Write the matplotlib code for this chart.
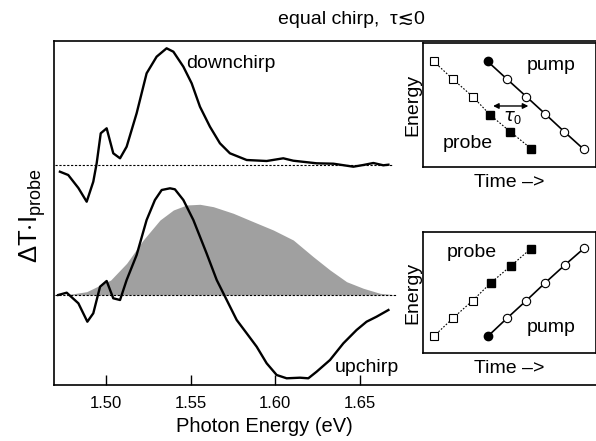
import matplotlib
matplotlib.use("Agg")
import matplotlib.pyplot as plt

plt.rcParams['font.family'] = ['Liberation Sans', 'DejaVu Sans']
plt.rcParams['mathtext.fontset'] = 'custom'
plt.rcParams['mathtext.rm'] = 'Liberation Sans'

# downchirp trace (offset above the upchirp trace)
down_e = [1.4728, 1.4777, 1.4837, 1.4886, 1.4925, 1.4945, 1.4969, 1.5004, 1.5043, 1.5083,
          1.5122, 1.5181, 1.5240, 1.5299, 1.5358, 1.5398, 1.5457, 1.5506, 1.5555, 1.5614,
          1.5673, 1.5732, 1.5831, 1.5949, 1.6047, 1.6106, 1.6244, 1.6343, 1.6461, 1.6520,
          1.6579, 1.6638, 1.6668]
down_s = [-0.67, -1.0, -2.3, -3.67, -1.67, 0.17, 3.17, 3.67, 1.17, 0.67,
          1.83, 5.17, 9.17, 10.83, 11.67, 11.33, 9.83, 8.17, 5.83, 3.83,
          2.17, 1.17, 0.5, 0.4, 0.67, 0.43, 0.17, 0.13, -0.17, 0.0,
          0.2, -0.03, 0.03]
down_offset = 13.0

# upchirp trace
up_e = [1.4718, 1.4768, 1.4837, 1.4890, 1.4925, 1.4965, 1.5004, 1.5043, 1.5083, 1.5122,
        1.5181, 1.5240, 1.5289, 1.5329, 1.5378, 1.5407, 1.5457, 1.5516, 1.5594, 1.5654,
        1.5713, 1.5772, 1.5831, 1.5890, 1.5949, 1.6008, 1.6067, 1.6146, 1.6195, 1.6244,
        1.6323, 1.6402, 1.6480, 1.6539, 1.6598, 1.6668]
up_s = [0.0, 0.23, -0.83, -2.67, -1.83, 0.83, 1.4, -0.33, -0.5, 1.5,
        4.0, 7.5, 9.5, 10.5, 10.67, 10.57, 9.5, 7.5, 4.17, 1.5,
        -0.5, -2.5, -3.83, -5.17, -6.83, -8.0, -8.33, -8.27, -8.33, -7.67,
        -6.5, -4.83, -3.5, -2.67, -2.17, -1.5]

# pulse spectrum (gray)
spec_e = [1.4700, 1.4758, 1.4886, 1.5028, 1.5122, 1.5220, 1.5319, 1.5398, 1.5476, 1.5555,
          1.5634, 1.5752, 1.5870, 1.5988, 1.6106, 1.6224, 1.6323, 1.6421, 1.6520, 1.6618,
          1.6717]
spec_s = [0.0, 0.0, 0.33, 1.5, 3.17, 5.5, 7.5, 8.5, 9.0, 9.07,
          8.83, 8.17, 7.33, 6.5, 5.5, 3.83, 2.5, 1.33, 0.67, 0.17,
          0.0]

xticks = [1.50, 1.55, 1.60, 1.65]

# inset schematics
t1_probe_t = [0.062, 0.173, 0.287, 0.389, 0.505, 0.624]
t1_probe_e = [0.851, 0.708, 0.568, 0.419, 0.284, 0.149]
t1_pump_t = [0.374, 0.486, 0.597, 0.707, 0.817, 0.929]
t1_pump_e = [0.851, 0.708, 0.568, 0.427, 0.284, 0.143]
t2_probe_t = [0.062, 0.173, 0.287, 0.393, 0.509, 0.624]
t2_probe_e = [0.137, 0.288, 0.433, 0.581, 0.721, 0.863]
t2_pump_t = [0.374, 0.486, 0.597, 0.707, 0.819, 0.933]
t2_pump_e = [0.137, 0.288, 0.433, 0.581, 0.726, 0.868]

fig = plt.figure(figsize=(5.96, 4.41), dpi=100)
ax = fig.add_axes([54 / 596, 56 / 441, 542 / 596, 344 / 441])

ax.fill_between(spec_e, spec_s, 0, color='#a0a0a0', lw=0)
ax.plot([1.4699, 1.6697], [down_offset, down_offset], color='black', lw=0.8, ls=(0, (2, 1.5)))
ax.plot([1.4699, 1.6717], [0, 0], color='black', lw=0.8, ls=(0, (2, 1.5)))
ax.plot(down_e, [v + down_offset for v in down_s], color='black', lw=1.7)
ax.plot(up_e, up_s, color='black', lw=1.7)

ax.text(1.5476, 23.2, 'downchirp', fontsize=14, ha='left', va='center')
ax.text(1.6352, -7.3, 'upchirp', fontsize=14, ha='left', va='center')

ax.set_xlim(1.4693, 1.7894)
ax.set_ylim(-9.0, 25.4)
ax.set_xticks(xticks)
ax.set_xticklabels(['%.2f' % v for v in xticks], fontsize=12)
ax.set_yticks([])
ax.tick_params(axis='x', direction='in', length=7, width=1, pad=8)
ax.spines['right'].set_visible(False)
for s in ['left', 'top', 'bottom']:
    ax.spines[s].set_linewidth(1.2)
fig.text(264 / 596, 1 - 427 / 441, 'Photon Energy (eV)', fontsize=14.5, ha='center', va='center')
fig.text(32 / 596, 1 - 216 / 441, r'$\Delta$T$\cdot$I$_{\mathrm{probe}}$', fontsize=18.5,
         rotation=90, ha='center', va='center')
fig.text(351 / 596, 1 - 20 / 441, 'equal chirp,  τ≲0', fontsize=14, ha='center', va='center')


def inset(rect, probe_t, probe_e, pump_t, pump_e):
    a = fig.add_axes(rect)
    a.set_xlim(0, 1)
    a.set_ylim(0, 1)
    a.set_xticks([])
    a.set_yticks([])
    for s in a.spines.values():
        s.set_linewidth(1.2)
    a.plot(probe_t, probe_e, color='black', lw=0.8, ls=(0, (1.5, 1.5)))
    a.plot(pump_t, pump_e, color='black', lw=1.2)
    a.plot(probe_t[:3], probe_e[:3], 's', ms=5.5, mfc='white', mec='black', mew=0.8)
    a.plot(probe_t[3:], probe_e[3:], 's', ms=5.5, mfc='black', mec='black')
    a.plot(pump_t[:1], pump_e[:1], 'o', ms=6, mfc='black', mec='black')
    a.plot(pump_t[1:], pump_e[1:], 'o', ms=6, mfc='white', mec='black', mew=0.8)
    a.set_ylabel('Energy', fontsize=14, labelpad=1)
    a.set_xlabel('Time –>', fontsize=14, labelpad=5)
    return a


a1 = inset([423 / 596, 274 / 441, 173 / 596, 124 / 441],
           t1_probe_t, t1_probe_e, t1_pump_t, t1_pump_e)
a1.annotate('', xy=(0.389, 0.492), xytext=(0.625, 0.492),
            arrowprops=dict(arrowstyle='<|-|>', color='black', lw=1, mutation_scale=8))
a1.text(0.52, 0.40, r'$\tau_0$', fontsize=13, ha='center', va='center',
        family='DejaVu Serif')
a1.text(0.74, 0.82, 'pump', fontsize=14, ha='center', va='center')
a1.text(0.26, 0.19, 'probe', fontsize=14, ha='center', va='center')

a2 = inset([423 / 596, 88 / 441, 173 / 596, 121 / 441],
           t2_probe_t, t2_probe_e, t2_pump_t, t2_pump_e)
a2.text(0.28, 0.83, 'probe', fontsize=14, ha='center', va='center')
a2.text(0.74, 0.21, 'pump', fontsize=14, ha='center', va='center')

fig.savefig('out.png', dpi=100)
